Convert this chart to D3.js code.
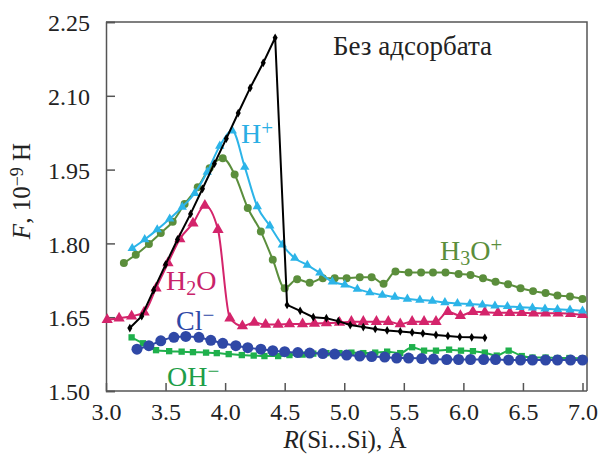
<!DOCTYPE html>
<html>
<head>
<meta charset="utf-8">
<script src="https://cdn.jsdelivr.net/npm/d3@7"></script>
<style>
  body { margin: 0; background: #fff; }
  text { font-family: "Liberation Serif", "Times New Roman", serif; }
</style>
</head>
<body>
<svg id="chart" width="599" height="456"></svg>
<script>
// series values: [R, F]
var noAdsorbate = [[3.20,1.628],[3.30,1.652],[3.40,1.705],[3.50,1.757],[3.60,1.808],[3.71,1.860],[3.81,1.911],[3.91,1.962],[4.01,2.013],[4.11,2.065],[4.21,2.116],[4.32,2.167],[4.42,2.218],[4.52,1.675],[4.63,1.663],[4.74,1.650],[4.85,1.648],[4.95,1.642],[5.05,1.634],[5.16,1.630],[5.26,1.626],[5.36,1.623],[5.47,1.621],[5.57,1.619],[5.66,1.617],[5.77,1.614],[5.87,1.612],[5.97,1.610],[6.07,1.609],[6.18,1.608]];

var hPlus = [[3.22,1.790],[3.325,1.808],[3.43,1.828],[3.535,1.850],[3.64,1.874],[3.745,1.902],[3.85,1.945],[3.955,1.998],[4.06,2.029],[4.165,1.955],[4.27,1.875],[4.375,1.836],[4.48,1.797],[4.585,1.770],[4.69,1.756],[4.795,1.740],[4.90,1.722],[5.005,1.716],[5.11,1.707],[5.215,1.700],[5.32,1.695],[5.425,1.691],[5.53,1.687],[5.635,1.685],[5.74,1.683],[5.845,1.680],[5.95,1.678],[6.055,1.677],[6.16,1.675],[6.265,1.673],[6.37,1.672],[6.475,1.670],[6.58,1.669],[6.685,1.667],[6.79,1.666],[6.895,1.665],[7.0,1.663]];

var h3oPlus = [[3.15,1.760],[3.25,1.777],[3.36,1.799],[3.46,1.821],[3.56,1.844],[3.66,1.880],[3.77,1.914],[3.87,1.953],[3.98,1.973],[4.08,1.940],[4.19,1.872],[4.30,1.824],[4.40,1.767],[4.50,1.709],[4.605,1.727],[4.71,1.720],[4.82,1.729],[4.92,1.729],[5.02,1.729],[5.13,1.731],[5.23,1.731],[5.33,1.718],[5.43,1.743],[5.54,1.741],[5.645,1.741],[5.745,1.741],[5.85,1.741],[5.96,1.738],[6.06,1.736],[6.165,1.729],[6.27,1.722],[6.375,1.717],[6.48,1.709],[6.585,1.703],[6.69,1.699],[6.79,1.694],[6.895,1.692],[7.0,1.687]];

var h2o = [[3.01,1.645],[3.11,1.648],[3.215,1.652],[3.32,1.660],[3.42,1.709],[3.52,1.760],[3.62,1.809],[3.73,1.841],[3.83,1.877],[3.94,1.828],[4.04,1.648],[4.145,1.632],[4.245,1.639],[4.34,1.635],[4.445,1.635],[4.54,1.636],[4.65,1.636],[4.75,1.637],[4.85,1.638],[4.96,1.639],[5.06,1.641],[5.16,1.641],[5.27,1.641],[5.37,1.641],[5.47,1.636],[5.57,1.641],[5.67,1.641],[5.77,1.641],[5.87,1.661],[5.975,1.653],[6.08,1.661],[6.18,1.660],[6.29,1.659],[6.39,1.659],[6.49,1.659],[6.59,1.658],[6.69,1.658],[6.795,1.658],[6.90,1.657],[7.0,1.655]];

var clMinus = [[3.26,1.585],[3.36,1.592],[3.46,1.602],[3.57,1.609],[3.67,1.611],[3.78,1.609],[3.88,1.603],[3.98,1.597],[4.09,1.592],[4.19,1.588],[4.30,1.585],[4.40,1.582],[4.50,1.580],[4.61,1.578],[4.71,1.577],[4.82,1.576],[4.92,1.575],[5.02,1.573],[5.13,1.571],[5.23,1.570],[5.34,1.569],[5.44,1.567],[5.54,1.567],[5.65,1.566],[5.75,1.565],[5.86,1.564],[5.96,1.564],[6.06,1.564],[6.17,1.564],[6.27,1.564],[6.38,1.563],[6.48,1.563],[6.58,1.563],[6.69,1.563],[6.79,1.563],[6.90,1.563],[7.0,1.563]];

var ohMinus = [[3.215,1.609],[3.31,1.597],[3.42,1.583],[3.53,1.581],[3.635,1.580],[3.73,1.579],[3.84,1.578],[3.93,1.577],[4.03,1.575],[4.14,1.573],[4.24,1.572],[4.33,1.571],[4.445,1.571],[4.54,1.573],[4.65,1.574],[4.74,1.576],[4.85,1.577],[4.96,1.577],[5.06,1.578],[5.16,1.577],[5.26,1.578],[5.36,1.580],[5.47,1.577],[5.57,1.589],[5.67,1.582],[5.77,1.582],[5.88,1.584],[5.98,1.582],[6.08,1.581],[6.18,1.578],[6.28,1.572],[6.38,1.582],[6.49,1.571],[6.58,1.568],[6.69,1.568],[6.79,1.567],[6.89,1.567],[7.0,1.566]];

var xTicks = [3.0, 3.5, 4.0, 4.5, 5.0, 5.5, 6.0, 6.5, 7.0];
var yTicks = [1.50, 1.65, 1.80, 1.95, 2.10, 2.25];

var svg = d3.select("#chart");

var xScale = d3.scaleLinear().domain([3, 7]).range([106, 582.5]);
var yScale = d3.scaleLinear().domain([1.5, 2.25]).range([391, 22]);

// frame (top and right)
svg.append("path")
    .attr("d", "M106,22H587V391")
    .attr("fill", "none")
    .attr("stroke", "#555")
    .attr("stroke-width", 1.5);

var xAxis = d3.axisBottom(xScale)
    .tickValues(xTicks)
    .tickSize(-8)
    .tickPadding(11)
    .tickFormat(d3.format(".1f"));

var gx = svg.append("g")
    .attr("transform", "translate(0,391)")
    .call(xAxis);
gx.select(".domain").attr("d", "M106,0H587");

var yAxis = d3.axisLeft(yScale)
    .tickValues(yTicks)
    .tickSize(-9)
    .tickPadding(16)
    .tickFormat(d3.format(".2f"));

var gy = svg.append("g")
    .attr("transform", "translate(106,0)")
    .call(yAxis);

svg.selectAll(".domain, .tick line")
    .attr("stroke", "#555")
    .attr("stroke-width", 1.5);
svg.selectAll(".tick text")
    .attr("fill", "#222")
    .style("font-family", "'Liberation Serif', serif")
    .style("font-size", "24px");
gx.selectAll(".tick text").attr("dy", "0.75em");
gy.selectAll(".tick text").attr("dy", "0.36em");

// series
var series = [
    { data: h2o, color: "#d4246b", marker: "triangle", size: 55, curve: d3.curveMonotoneX },
    { data: ohMinus, color: "#1fb04c", marker: "square", size: 40, curve: d3.curveMonotoneX },
    { data: clMinus, color: "#2f48a6", marker: "circle", size: 95, curve: d3.curveMonotoneX },
    { data: h3oPlus, color: "#5b8e3c", marker: "circle", size: 50, curve: d3.curveMonotoneX },
    { data: hPlus, color: "#2cb4e8", marker: "triangle", size: 38, curve: d3.curveMonotoneX },
    { data: noAdsorbate, color: "#000", marker: "diamond", size: 22, curve: d3.curveLinear }
];

var symbols = {
    triangle: d3.symbolTriangle,
    square: d3.symbolSquare,
    circle: d3.symbolCircle,
    diamond: d3.symbolDiamond
};

series.forEach(function(s)
{
    var line = d3.line()
        .x(function(d) { return xScale(d[0]); })
        .y(function(d) { return yScale(d[1]); })
        .curve(s.curve);

    svg.append("path")
        .datum(s.data)
        .attr("d", line)
        .attr("fill", "none")
        .attr("stroke", s.color)
        .attr("stroke-width", 2);

    svg.append("g")
        .selectAll("path")
        .data(s.data)
        .enter().append("path")
        .attr("transform", function(d) { return "translate(" + xScale(d[0]) + "," + yScale(d[1]) + ")"; })
        .attr("d", d3.symbol().type(symbols[s.marker]).size(s.size))
        .attr("fill", s.color);
});

// labels
function label(x, y, color, parts)
{
    var t = svg.append("text")
        .attr("x", x)
        .attr("y", y)
        .attr("fill", color)
        .style("font-size", "28px");
    parts.forEach(function(p)
    {
        var ts = t.append("tspan").text(p.text);
        if (p.sub) ts.attr("baseline-shift", "-25%").style("font-size", "20px");
        if (p.sup) ts.attr("baseline-shift", "38%").style("font-size", "21px");
    });
}

svg.append("text")
    .attr("x", 333)
    .attr("y", 55)
    .attr("fill", "#222")
    .style("font-size", "27px")
    .text("Без адсорбата");

label(241, 143, "#2aaee4", [{ text: "H" }, { text: "+", sup: true }]);
label(440, 260, "#5b8e3c", [{ text: "H" }, { text: "3", sub: true }, { text: "O" }, { text: "+", sup: true }]);
label(166, 290, "#c9236a", [{ text: "H" }, { text: "2", sub: true }, { text: "O" }]);
label(176, 330, "#2f48a6", [{ text: "Cl" }, { text: "−", sup: true }]);
label(167, 386, "#1e9e48", [{ text: "OH" }, { text: "−", sup: true }]);

// axis titles
var xt = svg.append("text")
    .attr("x", 345)
    .attr("y", 448)
    .attr("text-anchor", "middle")
    .attr("fill", "#222")
    .style("font-size", "25px");
xt.append("tspan").style("font-style", "italic").text("R");
xt.append("tspan").text("(Si...Si), Å");

var yt = svg.append("text")
    .attr("transform", "translate(30,191) rotate(-90)")
    .attr("text-anchor", "middle")
    .attr("fill", "#222")
    .style("font-size", "25px");
yt.append("tspan").style("font-style", "italic").text("F");
yt.append("tspan").text(", 10");
yt.append("tspan").attr("baseline-shift", "40%").style("font-size", "18px").text("−9");
yt.append("tspan").text(" H");
</script>
</body>
</html>
